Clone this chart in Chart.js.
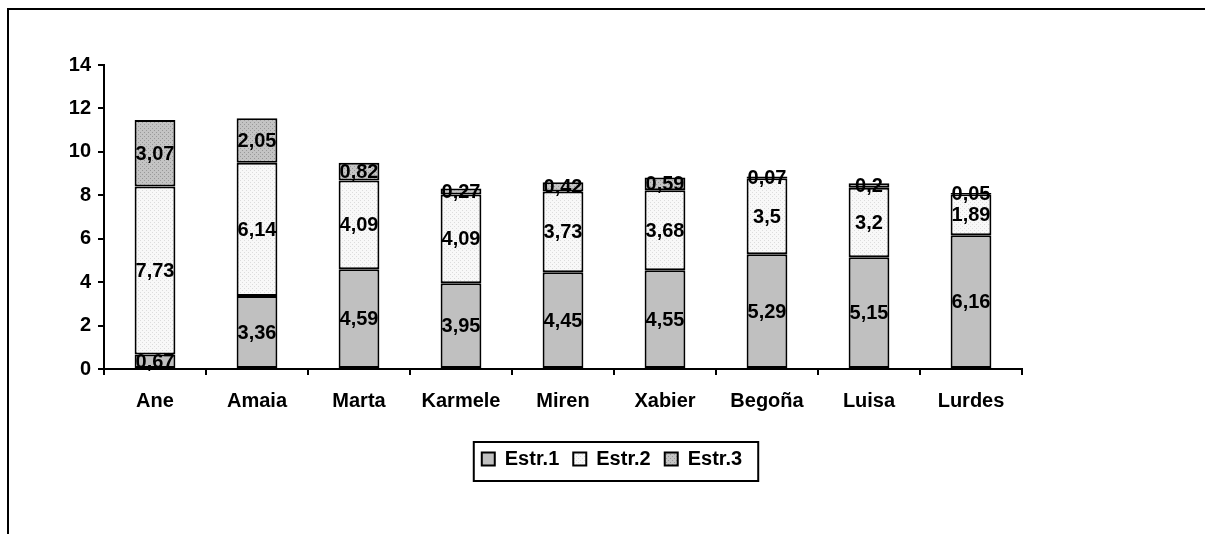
<!DOCTYPE html>
<html>
<head>
<meta charset="utf-8">
<script src="https://cdn.jsdelivr.net/npm/chart.js@4.4.1/dist/chart.umd.min.js"></script>
<style>
html, body { margin: 0; padding: 0; background: #fff; }
canvas { display: block; }
</style>
</head>
<body>
<canvas id="chart" width="1205" height="534"></canvas>
<script>
const names = ['Ane', 'Amaia', 'Marta', 'Karmele', 'Miren', 'Xabier', 'Begoña', 'Luisa', 'Lurdes'];
const estr1 = [0.67, 3.36, 4.59, 3.95, 4.45, 4.55, 5.29, 5.15, 6.16];
const estr2 = [7.73, 6.14, 4.09, 4.09, 3.73, 3.68, 3.5, 3.2, 1.89];
const estr3 = [3.07, 2.05, 0.82, 0.27, 0.42, 0.59, 0.07, 0.2, 0.05];
const seriesNames = ['Estr.1', 'Estr.2', 'Estr.3'];
const yTicks = [0, 2, 4, 6, 8, 10, 12, 14];

const FONT = '"Liberation Sans", Arial, sans-serif';
const canvas = document.getElementById('chart');
const ctx = canvas.getContext('2d');

// little dotted fills like the old excel patterns
function dots(base, dot) {
    const c = document.createElement('canvas');
    c.width = 4;
    c.height = 4;
    const g = c.getContext('2d');
    g.fillStyle = base;
    g.fillRect(0, 0, 4, 4);
    g.fillStyle = dot;
    g.fillRect(0, 0, 1, 1);
    g.fillRect(2, 2, 1, 1);
    return ctx.createPattern(c, 'repeat');
}

const frame = {
    id: 'frame',
    beforeDraw(chart) {
        const c = chart.ctx;
        c.save();
        c.strokeStyle = '#000';
        c.lineWidth = 2;
        c.beginPath();
        c.moveTo(8, 534);
        c.lineTo(8, 9);
        c.lineTo(1205, 9);
        c.stroke();
        c.restore();
    }
};

const values = {
    id: 'values',
    afterDatasetsDraw(chart) {
        const c = chart.ctx;
        c.save();
        c.font = 'bold 20px ' + FONT;
        c.fillStyle = '#000';
        c.textAlign = 'center';
        c.textBaseline = 'middle';
        chart.data.datasets.forEach((ds, i) => {
            chart.getDatasetMeta(i).data.forEach((bar, j) => {
                c.fillText(String(ds.data[j]).replace('.', ','), bar.x, (bar.y + bar.base) / 2 + 1);
            });
        });
        c.restore();
    }
};

const legendBox = {
    id: 'legendBox',
    afterLayout(chart) {
        const lg = chart.legend;
        const w = lg.right - lg.left;
        lg.left = 612 - w / 2;
        lg.right = lg.left + w;
    },
    afterDraw(chart) {
        const lg = chart.legend;
        const pad = lg.options.labels.padding;
        const rowW = lg.lineWidths[0] - pad;
        const x0 = (lg.left + lg.right - rowW) / 2;
        const c = chart.ctx;
        c.save();
        c.strokeStyle = '#000';
        c.lineWidth = 2;
        c.strokeRect(x0 - 8, lg.top + 7, rowW + 24, 39);
        c.restore();
    }
};

const fills = ['#c0c0c0', dots('#f8f8f8', '#dcdcdc'), dots('#c4c4c4', '#989898')];
const sets = [estr1, estr2, estr3];

Chart.defaults.color = '#000';
Chart.defaults.font.family = FONT;
Chart.defaults.font.weight = 'bold';
Chart.defaults.font.size = 20;

new Chart(ctx, {
    type: 'bar',
    data: {
        labels: names,
        datasets: sets.map((d, i) => ({
            label: seriesNames[i],
            data: d,
            backgroundColor: fills[i],
            borderColor: '#000',
            borderWidth: 2,
            borderSkipped: false,
            categoryPercentage: 1,
            barPercentage: 0.4,
        })),
    },
    options: {
        responsive: false,
        animation: false,
        layout: { padding: { left: 10, top: 65, right: 183, bottom: 55 } },
        plugins: {
            tooltip: { enabled: false },
            legend: {
                position: 'bottom',
                labels: { boxWidth: 13, boxHeight: 13, padding: 14, font: { size: 20, weight: 'bold' } },
            },
        },
        scales: {
            x: {
                stacked: true,
                grid: { drawOnChartArea: false, color: '#000', tickLength: 6, lineWidth: 2 },
                border: { color: '#000', width: 2 },
                ticks: { padding: 14 },
                afterFit: (s) => { s.height = 66; },
            },
            y: {
                stacked: true,
                min: yTicks[0],
                max: yTicks[yTicks.length - 1],
                ticks: { stepSize: yTicks[1] - yTicks[0], padding: 7 },
                grid: { drawOnChartArea: false, color: '#000', tickLength: 6, lineWidth: 2 },
                border: { color: '#000', width: 2 },
                afterFit: (s) => { s.width = 94; },
            },
        },
    },
    plugins: [frame, values, legendBox],
});
</script>
</body>
</html>
